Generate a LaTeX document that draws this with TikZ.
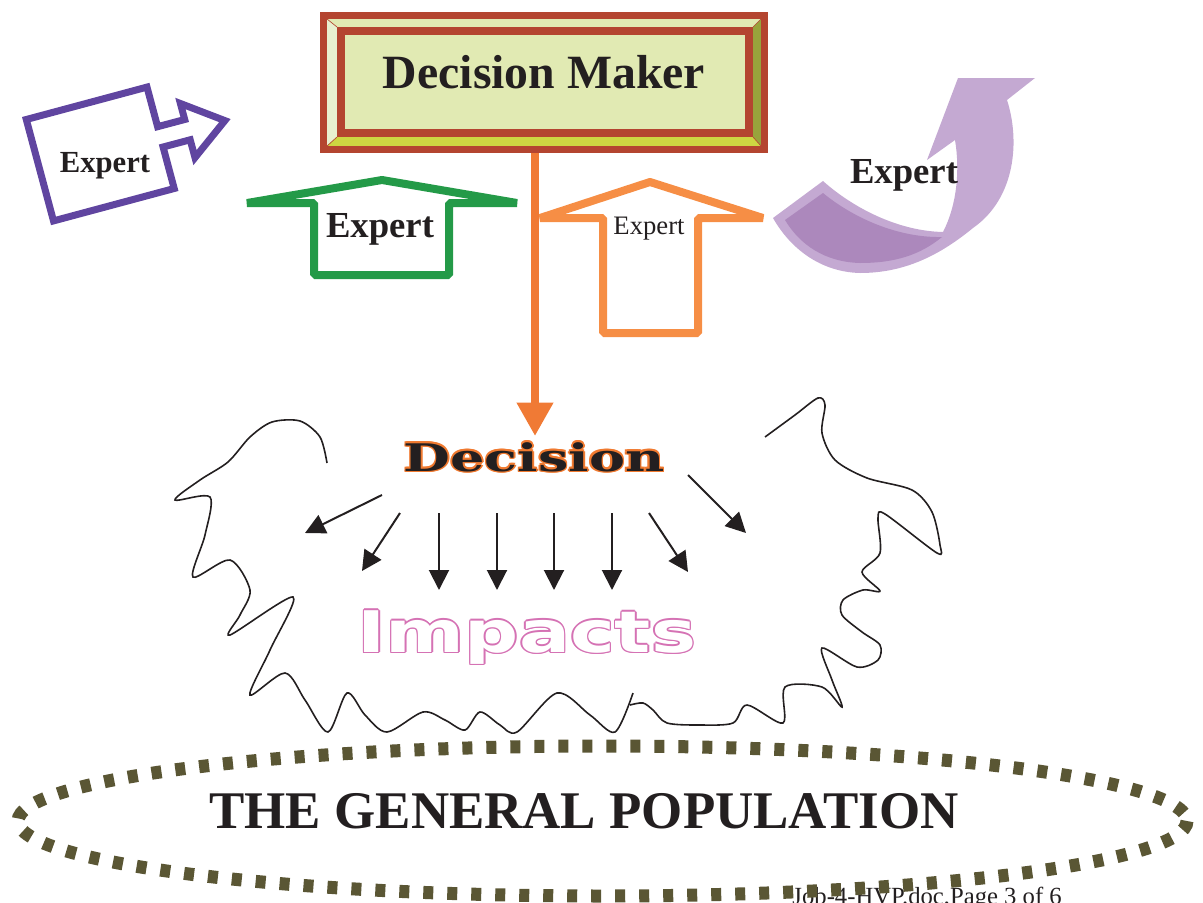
\documentclass[tikz,border=0pt]{standalone}
\usepackage{fontspec}
\setmainfont{Liberation Serif}
\newfontfamily\decfont{DejaVu Serif}
\newfontfamily\impfont{DejaVu Sans}
\usetikzlibrary{arrows.meta}
\definecolor{dmbrown}{HTML}{B44530}
\definecolor{dmpale}{HTML}{E1EAB3}
\definecolor{bevleft}{HTML}{E8F0D0}
\definecolor{bevright}{HTML}{98A33C}
\definecolor{bevbottom}{HTML}{CDD642}
\definecolor{purpleA}{HTML}{6045A0}
\definecolor{greenA}{HTML}{249A48}
\definecolor{orangeA}{HTML}{F68E45}
\definecolor{orangeL}{HTML}{F07A35}
\definecolor{lilac}{HTML}{C4A9D2}
\definecolor{lilacdark}{HTML}{AC88BC}
\definecolor{decor}{HTML}{F07A30}
\definecolor{pinkI}{HTML}{D572B4}
\definecolor{olive}{HTML}{5A5634}
\definecolor{textc}{HTML}{231F20}
\tikzset{
  lbl/.style={anchor=base,inner sep=0pt,text=textc},
  blockarrow/.style={line width=6pt,line join=bevel},
  cloud/.style={line width=1.2pt,draw=textc},
  smallarrow/.style={line width=1.5pt,draw=textc,-{Triangle[width=15pt,length=15pt]}},
}
\begin{document}
\begin{tikzpicture}[x=0.75pt,y=-0.75pt]
\useasboundingbox (0,0) rectangle (1203,903);

% ---------------- Decision Maker box
\fill[dmpale] (327,19) -- (761,19) -- (753,27) -- (337,27) -- cycle;
\fill[bevleft] (327,19) -- (337,27) -- (337,137) -- (327,146) -- cycle;
\fill[bevright] (761,19) -- (761,146) -- (753,137) -- (753,27) -- cycle;
\fill[bevbottom] (327,146) -- (337,137) -- (753,137) -- (761,146) -- cycle;
\draw[dmbrown,line width=0.5pt] (327,19) -- (337,27) (761,19) -- (753,27) (327,146) -- (337,137) (761,146) -- (753,137);
\draw[dmbrown,fill=dmpale,line width=6pt] (341,31) rectangle (749,133);
\node[draw=dmbrown,line width=5.25pt,minimum width=330.75pt,minimum height=100.5pt,inner sep=0pt] (dm) at (544,82.5) {};
\node[lbl,font=\bfseries\fontsize{35.8pt}{40pt}\selectfont] (dmtext) at (544,88) {Decision Maker};

% ---------------- purple block arrow (left)
\draw[purpleA,line width=5.25pt,line join=miter]
  (26.3,119.5) -- (147,87.1) -- (157.6,126.7) -- (184.7,119.5) -- (180.4,103.5)
  -- (224.9,120.6) -- (195,157.6) -- (190.2,139.8) -- (163.1,147) -- (174.2,188.5)
  -- (53.5,220.9) -- cycle;
\node[lbl,font=\bfseries\fontsize{23pt}{26pt}\selectfont] (exp1) at (105,172) {Expert};

% ---------------- green up arrow
\draw[greenA,blockarrow] (314,275) -- (314,203) -- (247,203) -- (382,180) -- (517,203) -- (449,203) -- (449,275) -- cycle;
\node[lbl,font=\bfseries\fontsize{27.5pt}{30pt}\selectfont] (exp2) at (380,237) {Expert};

% ---------------- orange up arrow
\draw[orangeA,blockarrow] (603,333) -- (603,218) -- (540,218) -- (650,182) -- (763,218) -- (698,218) -- (698,333) -- cycle;
\node[lbl,font=\fontsize{20pt}{23pt}\selectfont] (exp3) at (649,234) {Expert};

% ---------------- lilac curved arrow
\fill[lilac] (773,218) -- (823,181) .. controls (852,207) and (897,231) .. (943,232)
  .. controls (957,205) and (960,170) .. (955,140) -- (927,160) -- (958,78) -- (1035,78)
  -- (1007,100) .. controls (1020,140) and (1016,198) .. (973,228)
  .. controls (940,255) and (905,273) .. (860,273)
  .. controls (820,272) and (790,248) .. (773,218) -- cycle;
\fill[lilacdark] (785,220) -- (823,193) .. controls (852,217) and (897,238) .. (942,237)
  .. controls (920,255) and (895,263) .. (860,263)
  .. controls (825,262) and (800,245) .. (785,220) -- cycle;
\node[lbl,font=\bfseries\fontsize{27.5pt}{30pt}\selectfont] (exp4) at (904,183) {Expert};

% ---------------- Decision text
\foreach \dx/\dy in {-1.6/0,1.6/0,0/-1.6,0/1.6,-1.15/-1.15,1.15/1.15,-1.15/1.15,1.15/-1.15}
  \node[lbl,text=decor,font=\decfont\bfseries\fontsize{28.5pt}{30pt}\selectfont] at (534+\dx,471+\dy) {\scalebox{1.42}[1]{Decision}};
\node[lbl,font=\decfont\bfseries\fontsize{28.5pt}{30pt}\selectfont] (dec) at (534,471) {\scalebox{1.42}[1]{Decision}};
\coordinate (dectop) at (535,436);
\draw[orangeL,line width=6pt,-{Triangle[width=26pt,length=25pt]}] (dm.south -| dectop) -- (dectop);

% ---------------- Impacts text (hollow)
\foreach \dx/\dy in {-1.4/0,1.4/0,0/-1.4,0/1.4,-1/-1,1/1,-1/1,1/-1}
  \node[lbl,text=pinkI,font=\impfont\bfseries\fontsize{43pt}{46pt}\selectfont] at (527+\dx,652+\dy) {\scalebox{1.32}[1]{Impacts}};
\node[lbl,text=white,font=\impfont\bfseries\fontsize{43pt}{46pt}\selectfont] (imp) at (527,652) {\scalebox{1.32}[1]{Impacts}};

% ---------------- small arrows
\coordinate (a1s) at (382,495); \coordinate (a1e) at (305,533);
\coordinate (a2s) at (400,513); \coordinate (a2e) at (362,571);
\coordinate (a3s) at (439,513); \coordinate (a3e) at (439,590);
\coordinate (a4s) at (497,513); \coordinate (a4e) at (497,590);
\coordinate (a5s) at (554,513); \coordinate (a5e) at (554,590);
\coordinate (a6s) at (612,513); \coordinate (a6e) at (612,590);
\coordinate (a7s) at (649,513); \coordinate (a7e) at (688,572);
\coordinate (a8s) at (688,475); \coordinate (a8e) at (746,533);
\foreach \i in {1,...,8} \draw[smallarrow] (a\i s) -- (a\i e);

% ---------------- cloud lines
\draw[cloud] plot[smooth,tension=0.5] coordinates {
 (327,463) (320,437) (300,421) (272,422) (250,437) (228,462) (200,480) (175,500)
 (210,497) (205,535) (193,577) (230,560) (250,590) (240,615) (230,635) (293,597)
 (270,650) (250,695) (285,673) (305,700) (328,732) (347,693) (365,715) (387,732)
 (423,712) (445,720) (465,730) (480,712) (500,725) (517,732) (557,693) (590,715)
 (615,732) (633,693)};
\draw[cloud] plot[smooth,tension=0.5] coordinates {
 (765,437) (795,415) (818,398) (825,405) (822,433) (835,460) (867,478) (912,490)
 (932,512) (940,545) (937,553) (885,514) (878,518) (880,553) (862,572) (880,591)
 (863,590) (843,600) (842,615) (862,632) (880,645) (878,660) (857,667) (822,648)
 (832,680) (842,707) (822,687) (785,687) (783,723) (747,705) (733,723) (700,725)
 (667,723) (653,710) (643,703) (630,705)};

% ---------------- footer and population ellipse
\node[lbl,font=\fontsize{18.5pt}{20pt}\selectfont,anchor=base east] (foot) at (1062,904) {Job-4-HVP.doc,Page 3 of 6};
\draw[olive,line width=9.75pt,dash pattern=on 7.5pt off 10.5pt] (602.5,821) ellipse [x radius=584.5, y radius=75];
\node[lbl,font=\bfseries\fontsize{39.7pt}{44pt}\selectfont] (pop) at (584,828) {THE GENERAL POPULATION};
\end{tikzpicture}
\end{document}
